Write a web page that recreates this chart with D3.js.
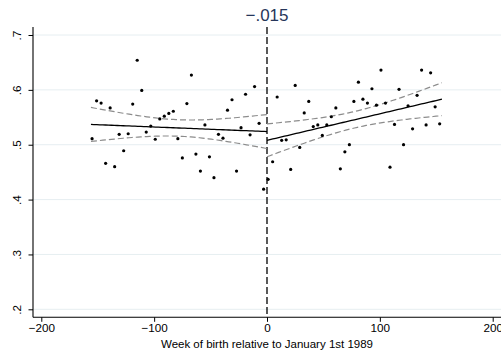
<!DOCTYPE html>
<html>
<head>
<meta charset="utf-8">
<script src="https://cdn.jsdelivr.net/npm/d3@7"></script>
<style>
  body { margin: 0; background: #fff; }
  svg { display: block; font-family: "Liberation Sans", Arial, sans-serif; }
</style>
</head>
<body>
<div id="chart"></div>
<script>
// weeks (bin centres) and shares
var weeksLeft = [-155, -151, -147, -143, -139, -135, -131, -127, -123, -119, -115, -111, -107, -103,
  -99, -95, -91, -87, -83, -79, -75, -71, -67, -63, -59, -55, -51, -47, -43, -39, -35, -31, -27,
  -23, -19, -15, -11, -7, -3];
var valuesLeft = [0.511, 0.580, 0.576, 0.466, 0.567, 0.460, 0.519, 0.489, 0.520, 0.574, 0.654,
  0.599, 0.523, 0.534, 0.510, 0.547, 0.552, 0.557, 0.561, 0.511, 0.476, 0.575, 0.627, 0.483,
  0.452, 0.536, 0.478, 0.440, 0.519, 0.512, 0.563, 0.582, 0.452, 0.531, 0.592, 0.518, 0.606,
  0.539, 0.419];

var weeksRight = [1, 5, 9, 13, 17, 21, 25, 29, 33, 37, 41, 45, 49, 53, 57, 61, 65, 69, 73, 77,
  81, 85, 89, 93, 97, 101, 105, 109, 113, 117, 121, 125, 129, 133, 137, 141, 145, 149, 153];
var valuesRight = [0.437, 0.469, 0.587, 0.508, 0.509, 0.455, 0.608, 0.495, 0.558, 0.579, 0.533,
  0.536, 0.517, 0.536, 0.551, 0.567, 0.456, 0.487, 0.500, 0.579, 0.614, 0.583, 0.576, 0.602,
  0.572, 0.636, 0.576, 0.459, 0.537, 0.601, 0.500, 0.571, 0.529, 0.590, 0.636, 0.536, 0.631,
  0.569, 0.538];

// linear fits: range, fitted value at each end,
// half-width of the 95% band at the ends and in the middle
var fitRangeLeft = [-156, 0];
var fitEndsLeft = [0.537, 0.524];
var bandLeft = [0.031, 0.015];

var fitRangeRight = [0, 155];
var fitEndsRight = [0.508, 0.583];
var bandRight = [0.030, 0.015];

var xTicks = [-200, -100, 0, 100, 200];
var yTicks = [0.2, 0.3, 0.4, 0.5, 0.6, 0.7];
var titleText = "\u2212.015";
var xTitle = "Week of birth relative to January 1st 1989";

var width = 501, height = 354;
var plotLeft = 33, plotRight = 501, plotTop = 27, plotBottom = 317.3;

var svg = d3.select("#chart").append("svg")
    .attr("width", width)
    .attr("height", height);

var x = d3.scaleLinear().domain([-200, 200]).range([41.3, 492.7]);
var y = d3.scaleLinear().domain([0.2, 0.7]).range([309.3, 35]);

// straight fit with a hyperbolic confidence band (shape of a Stata lfitci band)
function fitLine(range, ends, band) {
    var fit = d3.scaleLinear().domain(range).range(ends);
    var mid = (range[0] + range[1]) / 2, half = (range[1] - range[0]) / 2;
    var pts = [];
    for (var k = 0; k <= 60; k++) {
        var xv = range[0] + (range[1] - range[0]) * k / 60;
        var u = (xv - mid) / half;
        var hw = Math.sqrt(band[1] * band[1] + (band[0] * band[0] - band[1] * band[1]) * u * u);
        pts.push({ x: xv, fit: fit(xv), lo: fit(xv) - hw, hi: fit(xv) + hw });
    }
    return pts;
}

// gridlines
svg.selectAll("line.grid")
    .data(yTicks)
    .enter().append("line")
    .attr("class", "grid")
    .attr("x1", plotLeft)
    .attr("x2", plotRight)
    .attr("y1", d => y(d))
    .attr("y2", d => y(d))
    .attr("stroke", "#e6eef1")
    .attr("stroke-width", 1);

// cutoff line
svg.append("line")
    .attr("x1", x(0)).attr("x2", x(0))
    .attr("y1", plotTop).attr("y2", plotBottom)
    .attr("stroke", "#000")
    .attr("stroke-width", 1.3)
    .attr("stroke-dasharray", "7,3");

var sides = [
    fitLine(fitRangeLeft, fitEndsLeft, bandLeft),
    fitLine(fitRangeRight, fitEndsRight, bandRight)
];

sides.forEach(function (pts) {
    ["lo", "hi"].forEach(function (key) {
        svg.append("path")
            .datum(pts)
            .attr("fill", "none")
            .attr("stroke", "#8c8c8c")
            .attr("stroke-width", 1.2)
            .attr("stroke-dasharray", "6,3")
            .attr("d", d3.line().x(d => x(d.x)).y(d => y(d[key])));
    });
    svg.append("path")
        .datum(pts)
        .attr("fill", "none")
        .attr("stroke", "#000")
        .attr("stroke-width", 1.3)
        .attr("d", d3.line().x(d => x(d.x)).y(d => y(d.fit)));
});

// scatter points
var points = weeksLeft.map((w, i) => ({ w: w, v: valuesLeft[i] }))
    .concat(weeksRight.map((w, i) => ({ w: w, v: valuesRight[i] })));

svg.selectAll("circle.pt")
    .data(points)
    .enter().append("circle")
    .attr("class", "pt")
    .attr("cx", d => x(d.w))
    .attr("cy", d => y(d.v))
    .attr("r", 1.6)
    .attr("fill", "#000");

// axes
var xAxis = svg.append("g")
    .attr("transform", "translate(0," + plotBottom + ")")
    .call(d3.axisBottom(x).tickValues(xTicks).tickSize(4.5).tickPadding(2)
        .tickFormat(d => d < 0 ? "\u2212" + Math.abs(d) : d));
xAxis.select(".domain").attr("d", "M" + plotLeft + ",0H" + plotRight).attr("stroke-width", 1.1);
xAxis.selectAll("text").attr("font-size", "11.7px").attr("fill", "#000")
    .attr("font-family", "Liberation Sans, Arial, sans-serif");

var yAxis = svg.append("g")
    .attr("transform", "translate(" + plotLeft + ",0)")
    .call(d3.axisLeft(y).tickValues(yTicks).tickSize(4.5)
        .tickFormat(d => d3.format(".1f")(d).replace(/^0/, "")));
yAxis.select(".domain").attr("d", "M0," + plotTop + "V" + plotBottom).attr("stroke-width", 1.1);
yAxis.selectAll("text")
    .attr("font-size", "11.7px").attr("fill", "#000")
    .attr("font-family", "Liberation Sans, Arial, sans-serif")
    .attr("x", null).attr("dy", null)
    .attr("text-anchor", "middle")
    .attr("transform", "translate(-12,0) rotate(-90)");

// titles
svg.append("text")
    .attr("x", x(0))
    .attr("y", 20.7)
    .attr("text-anchor", "middle")
    .attr("font-size", "17px")
    .attr("fill", "#26365a")
    .text(titleText);

svg.append("text")
    .attr("x", x(0))
    .attr("y", 347.5)
    .attr("text-anchor", "middle")
    .attr("font-size", "11.5px")
    .attr("fill", "#000")
    .text(xTitle);
</script>
</body>
</html>
